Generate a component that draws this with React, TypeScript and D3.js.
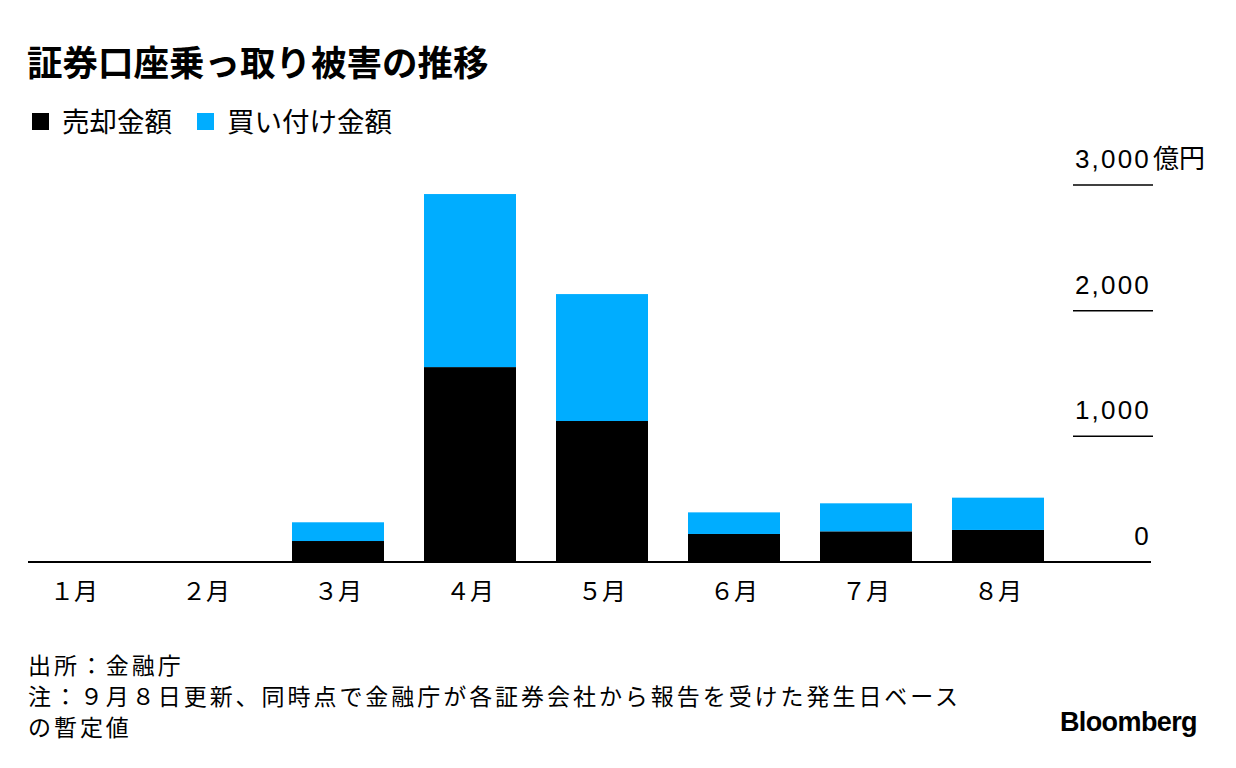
import React from "react";
import * as d3 from "d3";

const months = ["１月", "２月", "３月", "４月", "５月", "６月", "７月", "８月"];
const sellValues = [0, 0, 167, 1551, 1122, 223, 244, 255];
const buyValues = [0, 0, 149, 1377, 1010, 172, 223, 257];
const yTicks = [0, 1000, 2000, 3000];
const seriesNames = ["売却金額", "買い付け金額"];
const seriesColors = ["#000000", "#00adff"];

const W = 1236;
const H = 768;
const baseY = 562;
const topY = 185;

export default function App() {
  const x = d3.scaleBand<string>().domain(months).range([28, 1044]).paddingInner(40 / 132).paddingOuter(0);
  const y = d3.scaleLinear().domain([0, 3000]).range([baseY, topY]);
  const rows = months.map((m, i) => ({ m, sell: sellValues[i], buy: buyValues[i] }));
  const stack = d3.stack<any>().keys(["sell", "buy"])(rows);
  const jp = "'Noto Sans CJK JP', 'Noto Sans', sans-serif";
  const num = "'Liberation Sans', Arial, sans-serif";
  return (
    <svg width={W} height={H} style={{ position: "absolute", left: 0, top: 0, background: "#fff" }}>
      <text x={27} y={76} fontFamily={jp} fontWeight={700} fontSize={35.5} fill="#000">
        証券口座乗っ取り被害の推移
      </text>
      {/* legend */}
      <rect x={32} y={113} width={17} height={17} fill={seriesColors[0]} />
      <text x={62} y={132} fontFamily={jp} fontSize={27.5} fill="#000">{seriesNames[0]}</text>
      <rect x={197} y={113} width={17} height={17} fill={seriesColors[1]} />
      <text x={227} y={132} fontFamily={jp} fontSize={27.5} fill="#000">{seriesNames[1]}</text>

      {/* gridlines + labels */}
      {yTicks.map((t) => (
        <g key={t}>
          {t > 0 && <line x1={1073} x2={1153} y1={y(t)} y2={y(t)} stroke="#000" strokeWidth={1.5} />}
          <text x={1151} y={y(t) - 17} textAnchor="end" fontFamily={num} fontSize={26} letterSpacing={2.2} fill="#000">
            {d3.format(",")(t)}
          </text>
        </g>
      ))}
      <text x={1153} y={y(3000) - 17} fontFamily={jp} fontSize={26} fill="#000">億円</text>

      {/* bars */}
      {stack.map((s, si) => (
        <g key={si} fill={seriesColors[si]}>
          {s.map((d: any, i: number) => {
            const h = y(d[0]) - y(d[1]);
            if (h <= 0) return null;
            return <rect key={i} x={x(months[i])} y={y(d[1])} width={x.bandwidth()} height={h} />;
          })}
        </g>
      ))}
      <line x1={28} x2={1151} y1={baseY} y2={baseY} stroke="#000" strokeWidth={2} />

      {/* x labels */}
      {months.map((m) => (
        <text key={m} x={(x(m) as number) + x.bandwidth() / 2} y={600} textAnchor="middle" fontFamily={jp} fontSize={24} fill="#000">
          {m}
        </text>
      ))}

      {/* footer */}
      <g fontFamily={jp} fontSize={23} letterSpacing={2.95} fill="#000">
        <text x={28} y={674}>出所：金融庁</text>
        <text x={28} y={705}>注：９月８日更新、同時点で金融庁が各証券会社から報告を受けた発生日ベース</text>
        <text x={28} y={736}>の暫定値</text>
      </g>
      <text x={1197} y={731} textAnchor="end" fontFamily={num} fontWeight={700} fontSize={27} letterSpacing={-0.6} fill="#000">
        Bloomberg
      </text>
    </svg>
  );
}
